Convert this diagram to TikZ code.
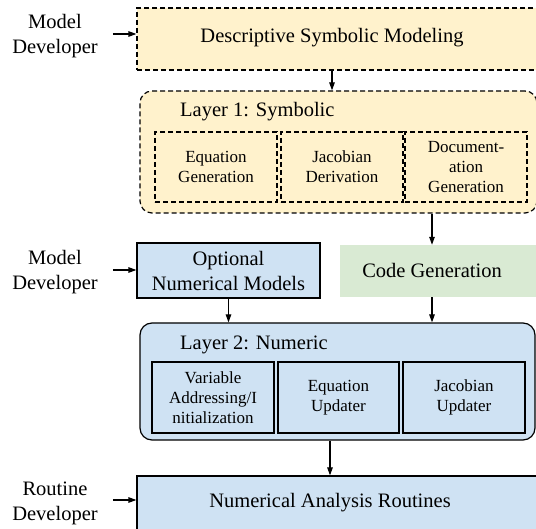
\documentclass[tikz,border=0pt]{standalone}
\usepackage{fontspec}
\setmainfont{Liberation Serif}
\usetikzlibrary{arrows.meta}
\definecolor{symfill}{HTML}{FFF2CC}
\definecolor{numfill}{HTML}{CFE2F3}
\definecolor{genfill}{HTML}{D9EAD3}
\tikzset{
  arr/.style={-{Triangle[length=8pt,width=5.5pt]}, line width=1.2pt},
  big/.style={font=\fontsize{20.5}{25}\selectfont, align=center, inner sep=0pt},
  small/.style={font=\fontsize{17}{20}\selectfont, align=center},
  dbox/.style={draw, line width=1.2pt, dash pattern=on 5pt off 3pt, inner sep=0pt},
  sbox/.style={draw, line width=1.2pt, inner sep=0pt},
}
\begin{document}
\begin{tikzpicture}[x=1pt,y=-1pt]
\useasboundingbox (0,0) rectangle (536,529);
\clip (0,0) rectangle (536,529);
% top box
\node[dbox, fill=symfill, minimum width=423pt, minimum height=62pt] (desc) at (348.5,39) {};
\node[big] (desct) at (332,38) {Descriptive Symbolic Modeling};
% layer 1
\node[dbox, fill=symfill, rounded corners=12pt, minimum width=397pt, minimum height=122pt] (l1) at (338.5,152) {};
\node[big, anchor=base west] (l1t) at (180,117) {Layer 1: Symbolic};
\node[dbox, small, minimum width=122pt, minimum height=70pt] (eqg) at (216,167) {Equation\\Generation};
\node[dbox, small, minimum width=122pt, minimum height=70pt] (jad) at (342,167) {Jacobian\\Derivation};
\node[dbox, small, minimum width=122pt, minimum height=70pt] (dog) at (466,167) {Document-\\ation\\Generation};
% middle row
\node[sbox, fill=numfill, big, minimum width=183pt, minimum height=55pt] (opt) at (228.5,270.5) {Optional\\Numerical Models};
\node[fill=genfill, inner sep=0pt, minimum width=220pt, minimum height=52pt] (cg) at (450,271) {};
\node[big] (cgt) at (432,270) {Code Generation};
% layer 2
\node[sbox, fill=numfill, rounded corners=12pt, minimum width=395pt, minimum height=117pt] (l2) at (337.5,381.5) {};
\node[big, anchor=base west] (l2t) at (180,350) {Layer 2: Numeric};
\node[sbox, small, minimum width=122pt, minimum height=71pt] (vai) at (213,397.5) {Variable\\Addressing/I\\nitialization};
\node[sbox, small, minimum width=121pt, minimum height=71pt] (equ) at (338.5,397.5) {Equation\\Updater};
\node[sbox, small, minimum width=122pt, minimum height=71pt] (jau) at (464,397.5) {Jacobian\\Updater};
% bottom
\node[sbox, fill=numfill, minimum width=423pt, minimum height=84pt] (nar) at (348.5,518) {};
\node[big] (nart) at (330,503) {Numerical Analysis Routines};
% left labels
\node[big] (dev1) at (55,36) {Model\\Developer};
\node[big] (dev2) at (55,272) {Model\\Developer};
\node[big] (dev3) at (55,503) {Routine\\Developer};
% connectors
\draw[arr] ([xshift=15pt,yshift=2pt]dev1.east) -- ([yshift=2pt]dev1.east -| desc.west);
\draw[arr] ([xshift=15pt,yshift=2pt]dev2.east) -- ([yshift=2pt]dev2.east -| opt.west);
\draw[arr] ([xshift=15pt,yshift=3pt]dev3.east) -- ([yshift=3pt]dev3.east -| nar.west);
\draw[arr] (desct |- desc.south) -- (desct |- l1.north);
\draw[arr] (cgt |- l1.south) -- (cgt |- cg.north);
\draw[arr] (opt.south) -- (opt.south |- l2.north);
\draw[arr] (cgt |- cg.south) -- (cgt |- l2.north);
\draw[arr] (nart |- l2.south) -- (nart |- nar.north);
\end{tikzpicture}
\end{document}
